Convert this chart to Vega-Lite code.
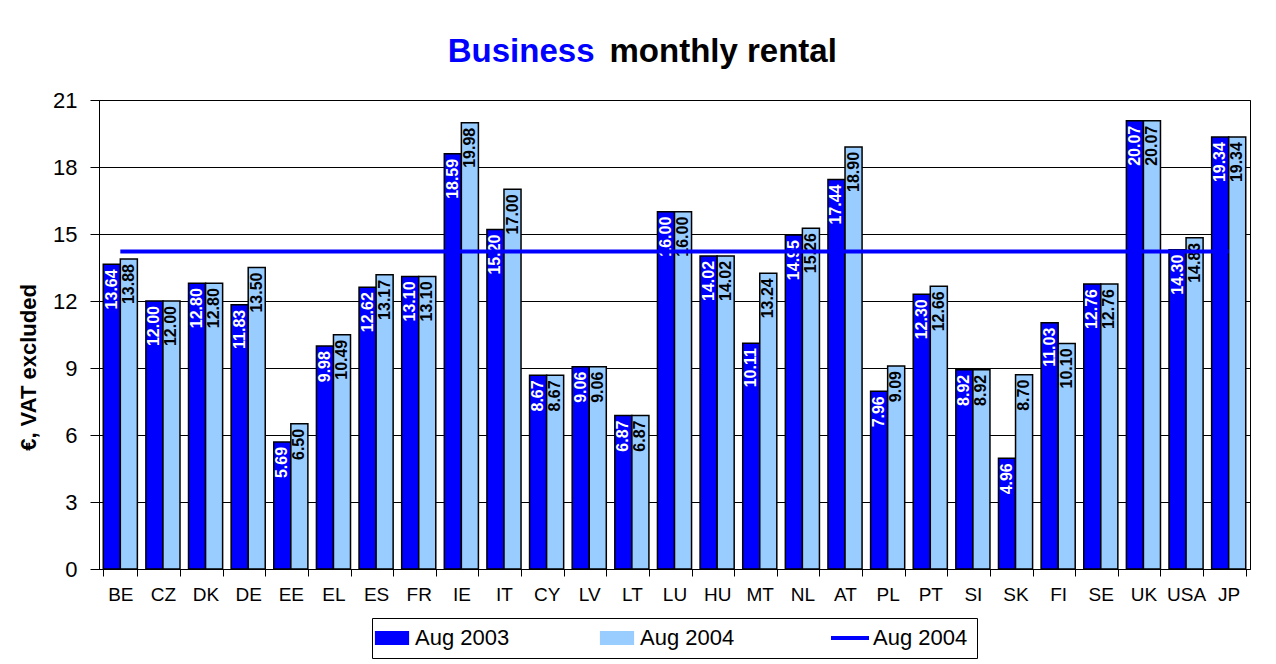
{
  "$schema": "https://vega.github.io/schema/vega-lite/v6.json",
  "width": 1276,
  "height": 664,
  "autosize": {"type": "fit", "contains": "padding"},
  "padding": {"left": 17, "top": 36, "right": 26, "bottom": 5},
  "background": "white",
  "config": {
    "font": "Liberation Sans",
    "view": {"stroke": "black", "strokeWidth": 1},
    "legend": {"layout": {"bottom": {"anchor": "middle"}}}
  },
  "title": {
    "text": "Business",
    "subtitle": "monthly rental",
    "anchor": "middle",
    "frame": "group",
    "align": "left",
    "dx": -65,
    "fontSize": 33,
    "fontWeight": "bold",
    "color": "#0000ff",
    "subtitleFontSize": 33,
    "subtitleFontWeight": "bold",
    "subtitleColor": "black",
    "subtitleFont": "Liberation Sans",
    "subtitlePadding": -33,
    "offset": 20,
    "encoding": {"align": {"value": "right"}, "dx": {"value": -80}}
  },
  "datasets": {
    "bars": [
      {"c": "BE", "s": "Aug 2003", "v": 13.64}, {"c": "BE", "s": "Aug 2004", "v": 13.88},
      {"c": "CZ", "s": "Aug 2003", "v": 12.00}, {"c": "CZ", "s": "Aug 2004", "v": 12.00},
      {"c": "DK", "s": "Aug 2003", "v": 12.80}, {"c": "DK", "s": "Aug 2004", "v": 12.80},
      {"c": "DE", "s": "Aug 2003", "v": 11.83}, {"c": "DE", "s": "Aug 2004", "v": 13.50},
      {"c": "EE", "s": "Aug 2003", "v": 5.69}, {"c": "EE", "s": "Aug 2004", "v": 6.50},
      {"c": "EL", "s": "Aug 2003", "v": 9.98}, {"c": "EL", "s": "Aug 2004", "v": 10.49},
      {"c": "ES", "s": "Aug 2003", "v": 12.62}, {"c": "ES", "s": "Aug 2004", "v": 13.17},
      {"c": "FR", "s": "Aug 2003", "v": 13.10}, {"c": "FR", "s": "Aug 2004", "v": 13.10},
      {"c": "IE", "s": "Aug 2003", "v": 18.59}, {"c": "IE", "s": "Aug 2004", "v": 19.98},
      {"c": "IT", "s": "Aug 2003", "v": 15.20}, {"c": "IT", "s": "Aug 2004", "v": 17.00},
      {"c": "CY", "s": "Aug 2003", "v": 8.67}, {"c": "CY", "s": "Aug 2004", "v": 8.67},
      {"c": "LV", "s": "Aug 2003", "v": 9.06}, {"c": "LV", "s": "Aug 2004", "v": 9.06},
      {"c": "LT", "s": "Aug 2003", "v": 6.87}, {"c": "LT", "s": "Aug 2004", "v": 6.87},
      {"c": "LU", "s": "Aug 2003", "v": 16.00}, {"c": "LU", "s": "Aug 2004", "v": 16.00},
      {"c": "HU", "s": "Aug 2003", "v": 14.02}, {"c": "HU", "s": "Aug 2004", "v": 14.02},
      {"c": "MT", "s": "Aug 2003", "v": 10.11}, {"c": "MT", "s": "Aug 2004", "v": 13.24},
      {"c": "NL", "s": "Aug 2003", "v": 14.95}, {"c": "NL", "s": "Aug 2004", "v": 15.26},
      {"c": "AT", "s": "Aug 2003", "v": 17.44}, {"c": "AT", "s": "Aug 2004", "v": 18.90},
      {"c": "PL", "s": "Aug 2003", "v": 7.96}, {"c": "PL", "s": "Aug 2004", "v": 9.09},
      {"c": "PT", "s": "Aug 2003", "v": 12.30}, {"c": "PT", "s": "Aug 2004", "v": 12.66},
      {"c": "SI", "s": "Aug 2003", "v": 8.92}, {"c": "SI", "s": "Aug 2004", "v": 8.92},
      {"c": "SK", "s": "Aug 2003", "v": 4.96}, {"c": "SK", "s": "Aug 2004", "v": 8.70},
      {"c": "FI", "s": "Aug 2003", "v": 11.03}, {"c": "FI", "s": "Aug 2004", "v": 10.10},
      {"c": "SE", "s": "Aug 2003", "v": 12.76}, {"c": "SE", "s": "Aug 2004", "v": 12.76},
      {"c": "UK", "s": "Aug 2003", "v": 20.07}, {"c": "UK", "s": "Aug 2004", "v": 20.07},
      {"c": "USA", "s": "Aug 2003", "v": 14.30}, {"c": "USA", "s": "Aug 2004", "v": 14.83},
      {"c": "JP", "s": "Aug 2003", "v": 19.34}, {"c": "JP", "s": "Aug 2004", "v": 19.34}
    ],
    "avg": [
      {"c": "BE", "s": "avg", "v": 14.22},
      {"c": "JP", "s": "avg", "v": 14.22}
    ]
  },
  "encoding": {
    "x": {
      "field": "c", "type": "nominal", "title": null,
      "scale": {
        "domain": ["BE","CZ","DK","DE","EE","EL","ES","FR","IE","IT","CY","LV","LT","LU","HU","MT","NL","AT","PL","PT","SI","SK","FI","SE","UK","USA","JP"],
        "paddingInner": 0.2, "paddingOuter": 0.1
      },
      "axis": {
        "labelAngle": 0, "labelFontSize": 19, "labelColor": "black", "labelPadding": 9,
        "tickBand": "extent", "tickSize": 7, "tickColor": "black", "domainColor": "black", "grid": false
      }
    },
    "y": {
      "field": "v", "type": "quantitative", "title": "€, VAT excluded",
      "scale": {"domain": [0, 21], "nice": false},
      "axis": {
        "values": [0, 3, 6, 9, 12, 15, 18, 21], "grid": true, "gridColor": "black", "gridOpacity": 1, "gridWidth": 1,
        "tickSize": 9, "tickColor": "black", "domainColor": "black",
        "labelFontSize": 22, "labelColor": "black", "labelPadding": 13,
        "titleFontSize": 22, "titleFontWeight": "bold", "titleColor": "black", "titlePadding": 12, "titleY": 267
      }
    }
  },
  "layer": [
    {
      "data": {"name": "bars"},
      "mark": {"type": "bar", "stroke": "black", "strokeWidth": 1.5},
      "encoding": {
        "xOffset": {"field": "s", "type": "nominal", "scale": {"paddingInner": 0, "paddingOuter": 0}},
        "color": {
          "field": "s", "type": "nominal",
          "scale": {"domain": ["Aug 2003", "Aug 2004", "avg"], "range": ["#0000ff", "#99ccff", "#0000ff"]},
          "legend": {
            "orient": "bottom", "direction": "horizontal", "title": null,
            "strokeColor": "black", "padding": 9, "columnPadding": 88, "offset": 14,
            "labelFontSize": 22, "labelColor": "black", "labelOffset": 12,
            "symbolSize": 1444, "symbolStrokeColor": "black", "symbolStrokeWidth": 1,
            "labelExpr": "datum.label === 'avg' ? 'Aug 2004' : datum.label",
            "encoding": {
              "symbols": {
                "shape": {"value": {"signal": "datum.value === 'avg' ? 'stroke' : 'M-1,-0.394H1V0.394H-1Z'"}},
                "fill": {"value": {"signal": "datum.value === 'avg' ? 'transparent' : (datum.value === 'Aug 2003' ? '#0000ff' : '#99ccff')"}},
                "stroke": {"value": {"signal": "datum.value === 'avg' ? '#0000ff' : '#000000'"}},
                "strokeWidth": {"value": {"signal": "datum.value === 'avg' ? 4 : 1.2"}},
                "size": {"value": {"signal": "datum.value === 'avg' ? 1444 : 1089"}},
                "opacity": {"value": 1}
              }
            }
          }
        }
      }
    },
    {
      "data": {"name": "bars"},
      "mark": {"type": "text", "angle": 270, "align": "right", "baseline": "middle", "dx": -5, "fontSize": 16, "fontWeight": "bold"},
      "encoding": {
        "xOffset": {"field": "s", "type": "nominal", "scale": {"paddingInner": 0, "paddingOuter": 0}},
        "text": {"field": "v", "type": "quantitative", "format": ".2f"},
        "color": {"condition": {"test": "datum.s === 'Aug 2003'", "value": "white"}, "value": "black"}
      }
    },
    {
      "data": {"name": "avg"},
      "mark": {"type": "line", "strokeWidth": 4},
      "encoding": {
        "color": {"field": "s", "type": "nominal"}
      }
    }
  ]
}
